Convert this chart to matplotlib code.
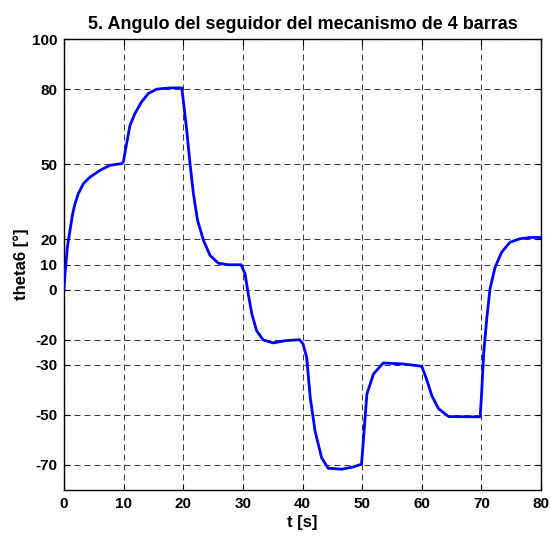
#!/usr/bin/env python3
"""Follower angle of the 4-bar mechanism, MATLAB-style step trace."""

import matplotlib
matplotlib.use("Agg")
import matplotlib.pyplot as plt

# values
t_s = [0.0, 0.17, 0.56, 1.0, 1.45, 1.85, 2.4, 3.25, 4.36, 6.04, 7.7, 9.68,
       9.95, 10.5, 11.07, 11.9, 13.0, 14.15, 15.55, 17.8, 19.74,
       20.0, 20.58, 21.13, 21.7, 22.4, 23.4, 24.5, 25.9, 27.6, 29.7,
       30.36, 30.9, 31.5, 32.3, 33.4, 35.1, 37.1, 39.5,
       40.1, 40.7, 41.3, 42.1, 43.2, 44.3, 46.6, 48.5, 49.9,
       50.2, 50.8, 51.9, 53.55, 56.9, 60.0,
       60.8, 61.7, 62.8, 64.5, 69.8,
       70.05, 70.4, 70.9, 71.45, 72.3, 73.4, 74.8, 76.5, 78.2, 80.0]
theta6 = [0.3, 6.3, 16.9, 23.6, 30.3, 34.3, 38.3, 42.3, 44.9, 47.6, 49.6, 50.3,
          50.9, 58.3, 65.6, 70.3, 74.9, 78.3, 80.0, 80.5, 80.5,
          75.6, 63.6, 50.3, 38.3, 27.6, 19.6, 13.6, 10.5, 9.9, 9.9,
          6.3, -1.7, -9.7, -16.4, -20.1, -21.3, -20.4, -20.0,
          -21.7, -27.1, -43.1, -56.4, -67.1, -71.3, -71.7, -70.8, -69.7,
          -60.4, -41.7, -33.7, -29.3, -29.7, -30.6,
          -35.7, -42.4, -47.5, -50.7, -50.8,
          -41.1, -25.1, -11.7, 0.3, 8.9, 14.9, 18.9, 20.3, 20.8, 20.8]

x_ticks = [0, 10, 20, 30, 40, 50, 60, 70, 80]
y_ticks = [-70, -50, -30, -20, 0, 10, 20, 50, 80, 100]

plt.rcParams["font.family"] = ["Liberation Sans", "DejaVu Sans"]
plt.rcParams["font.weight"] = "bold"
plt.rcParams["axes.unicode_minus"] = False
plt.rcParams["lines.scale_dashes"] = False

fig = plt.figure(figsize=(5.5, 5.39), dpi=100)
ax = fig.add_axes([0.1164, 0.0909, 0.8672, 0.8367])

ax.plot(t_s, theta6, color="#0000ff", linewidth=2.0, zorder=3)

ax.set_xlim(0, 80)
ax.set_ylim(-80, 100)
ax.set_xticks(x_ticks)
ax.set_yticks(y_ticks)
ax.tick_params(direction="in", top=True, right=True, length=4, width=0.8,
               labelsize=11, pad=5)
for lbl in ax.get_xticklabels() + ax.get_yticklabels():
    lbl.set_fontweight("bold")

ax.grid(True, color="#3a3a3a", linestyle=(0, (4.3, 2.9)), linewidth=0.75)
for side in ax.spines.values():
    side.set_linewidth(1.0)

ax.set_title("5. Angulo del seguidor del mecanismo de 4 barras",
             fontsize=13, fontweight="bold", pad=7)
ax.set_xlabel("t [s]", fontsize=12, fontweight="bold", labelpad=3)
ax.set_ylabel("theta6 [°]", fontsize=12, fontweight="bold", labelpad=2)

fig.savefig("out.png", dpi=100, facecolor="white")
